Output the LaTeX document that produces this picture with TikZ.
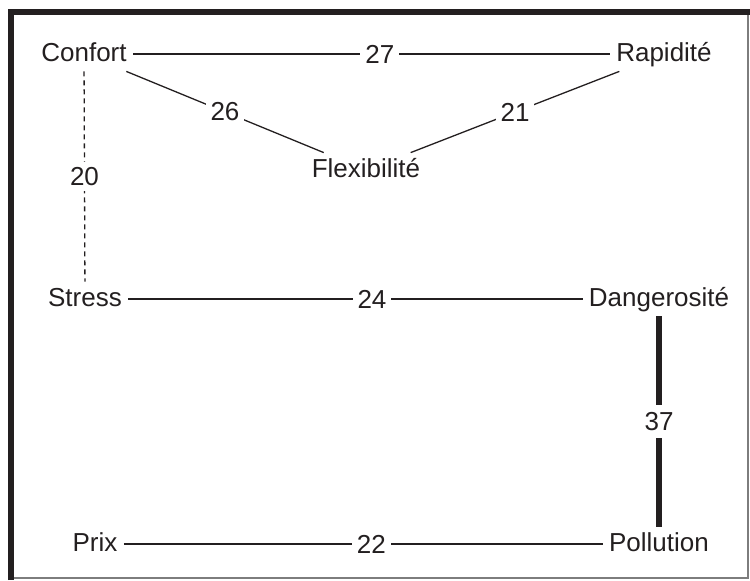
\documentclass[tikz,border=0pt]{standalone}
\usepackage{fontspec}
\setmainfont{Liberation Sans}
\usepackage{tikz}
\usetikzlibrary{calc}
\definecolor{inkblack}{RGB}{35,31,32}
\definecolor{framegray}{RGB}{125,125,125}

\begin{document}
\begin{tikzpicture}[x=0.5pt,y=-0.5pt,every node/.style={font=\fontsize{13}{15}\selectfont,text=inkblack},crit/.style={inner sep=3pt,text height=.9em,text depth=.2em},weight/.style={fill=white,inner sep=2.5pt},link/.style={draw=inkblack,line width=.65pt},weak/.style={link,dash pattern=on 2.5pt off 2pt},strong/.style={draw=inkblack,line width=2.8pt}]
        \useasboundingbox (0,0) rectangle (750,580);
        % frame
        \draw[framegray,line width=.8pt] (11,578)--(748,578)--(748,12);
        \draw[inkblack,line width=2.9pt] (11,580)--(11,12)--(750,12);
        % criteria
        \node[crit] (confort) at (84,54) {Confort};
        \node[crit] (rapidite) at (664,54) {Rapidité};
        \node[crit] (flexib) at (366,170) {Flexibilité};
        \node[crit] (stress) at (85,299) {Stress};
        \node[crit] (danger) at (659,299) {Dangerosité};
        \node[crit] (prix) at (95,544) {Prix};
        \node[crit] (pollution) at (659,544) {Pollution};
        % links
        \draw[link] (confort)--(rapidite);
        \draw[link] (confort)--(flexib);
        \draw[link] (rapidite)--(flexib);
        \draw[weak] (confort)--(stress);
        \draw[link] (stress)--(danger);
        \draw[strong] (danger)--(pollution);
        \draw[link] (prix)--(pollution);
        % weights
        \node[weight] (w27) at ($(confort)!.51!(rapidite)$) {27};
        \node[weight] (w26) at ($(confort)!.5!(flexib)$) {26};
        \node[weight] (w21) at ($(rapidite)!.5!(flexib)$) {21};
        \node[weight] (w20) at ($(confort)!.5!(stress)$) {20};
        \node[weight] (w24) at ($(stress)!.5!(danger)$) {24};
        \node[weight,inner sep=3.5pt] (w37) at ($(danger)!.5!(pollution)$) {37};
        \node[weight] (w22) at ($(prix)!.49!(pollution)$) {22};
      \end{tikzpicture}
\end{document}
